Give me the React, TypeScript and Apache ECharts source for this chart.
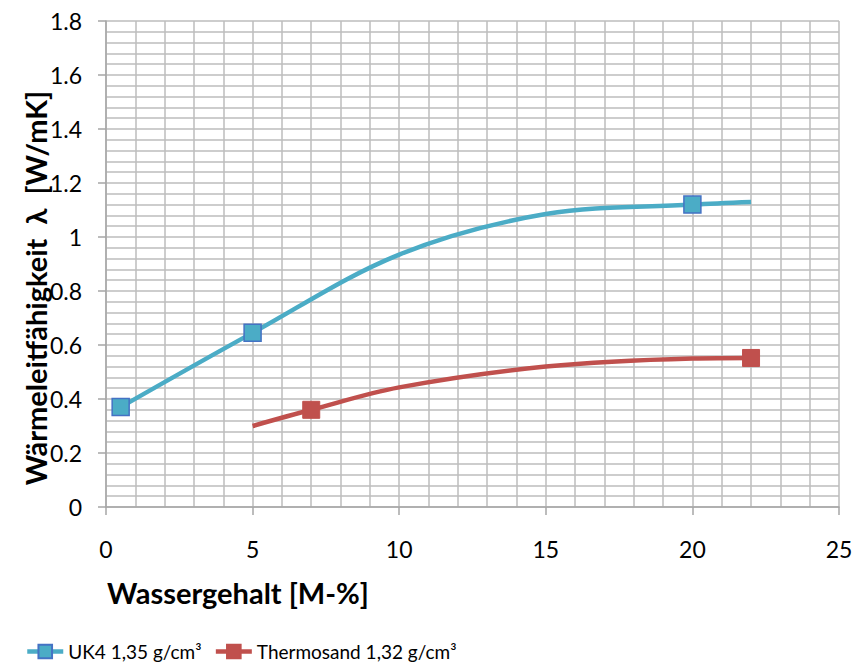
import React, { useEffect, useRef } from "react";
import * as echarts from "echarts";

const uk4Name = "UK4 1,35 g/cm³";
const uk4X = [0.5, 5, 10, 15, 20, 22];
const uk4Y = [0.37, 0.645, 0.935, 1.085, 1.12, 1.13];
const uk4Marked = [true, true, false, false, true, false];
const thermoName = "Thermosand 1,32 g/cm³";
const thermoX = [5, 7, 10, 15, 20, 22];
const thermoY = [0.3, 0.36, 0.443, 0.52, 0.55, 0.552];
const thermoMarked = [false, true, false, false, false, true];

const FONT = "Lato, 'Open Sans', sans-serif";

function buildData(xs: number[], ys: number[], marked: boolean[]) {
  return xs.map((x, i) =>
    marked[i] ? { value: [x, ys[i]] } : { value: [x, ys[i]], symbol: "none" }
  );
}

export default function App() {
  const ref = useRef<HTMLDivElement>(null);
  useEffect(() => {
    document.body.style.margin = "0";
    const chart = echarts.init(ref.current!, null, { renderer: "svg" });
    const gridColor = "#bdbdbd";
    chart.setOption({
      animation: false,
      backgroundColor: "#ffffff",
      grid: { left: 106, top: 21, right: 17, bottom: 163 },
      xAxis: {
        type: "value",
        min: 0,
        max: 25,
        interval: 5,
        axisLine: { show: true, lineStyle: { color: "#a6a6a6", width: 1.5 } },
        axisTick: { show: true, length: 8, lineStyle: { color: "#a6a6a6", width: 1.5 } },
        axisLabel: { color: "#000", fontSize: 23, fontFamily: FONT, margin: 30 },
        splitLine: { show: true, lineStyle: { color: gridColor, width: 1.5 } },
        minorTick: { show: false, splitNumber: 5 },
        minorSplitLine: { show: true, lineStyle: { color: gridColor, width: 1.5 } },
      },
      yAxis: {
        type: "value",
        min: 0,
        max: 1.8,
        interval: 0.2,
        axisLine: { show: true, lineStyle: { color: "#a6a6a6", width: 1.5 } },
        axisTick: { show: true, length: 8, lineStyle: { color: "#a6a6a6", width: 1.5 } },
        axisLabel: { color: "#000", fontSize: 23, fontFamily: FONT, margin: 24 },
        splitLine: { show: true, lineStyle: { color: gridColor, width: 1.5 } },
        minorTick: { show: false, splitNumber: 5 },
        minorSplitLine: { show: true, lineStyle: { color: gridColor, width: 1.5 } },
      },
      legend: {
        left: 20,
        top: 637,
        itemWidth: 36,
        itemHeight: 17,
        itemGap: 12,
        lineStyle: { width: "inherit" },
        textStyle: { color: "#000", fontSize: 19, fontFamily: FONT },
        data: [uk4Name, thermoName],
      },
      graphic: [
        {
          type: "text",
          x: 35,
          y: 288,
          rotation: Math.PI / 2,
          style: {
            text: "Wärmeleitfähigkeit  λ  [W/mK]",
            fill: "#000",
            font: `bold 29px ${FONT}`,
            textAlign: "center",
            textVerticalAlign: "middle",
          },
        },
        {
          type: "text",
          x: 107,
          y: 592,
          style: {
            text: "Wassergehalt [M-%]",
            fill: "#000",
            font: `bold 29px ${FONT}`,
            textAlign: "left",
            textVerticalAlign: "middle",
          },
        },
      ],
      series: [
        {
          name: uk4Name,
          type: "line",
          smooth: 0.35,
          symbol: "rect",
          symbolSize: 17,
          lineStyle: { color: "#4BACC6", width: 4.5 },
          itemStyle: { color: "#4BACC6", borderColor: "#4472C4", borderWidth: 1.5 },
          data: buildData(uk4X, uk4Y, uk4Marked),
        },
        {
          name: thermoName,
          type: "line",
          smooth: 0.35,
          symbol: "rect",
          symbolSize: 17,
          lineStyle: { color: "#C0504D", width: 4.5 },
          itemStyle: { color: "#C0504D", borderColor: "#C0504D", borderWidth: 1 },
          data: buildData(thermoX, thermoY, thermoMarked),
        },
      ],
    });
    return () => chart.dispose();
  }, []);
  return <div ref={ref} style={{ width: 856, height: 670 }} />;
}
